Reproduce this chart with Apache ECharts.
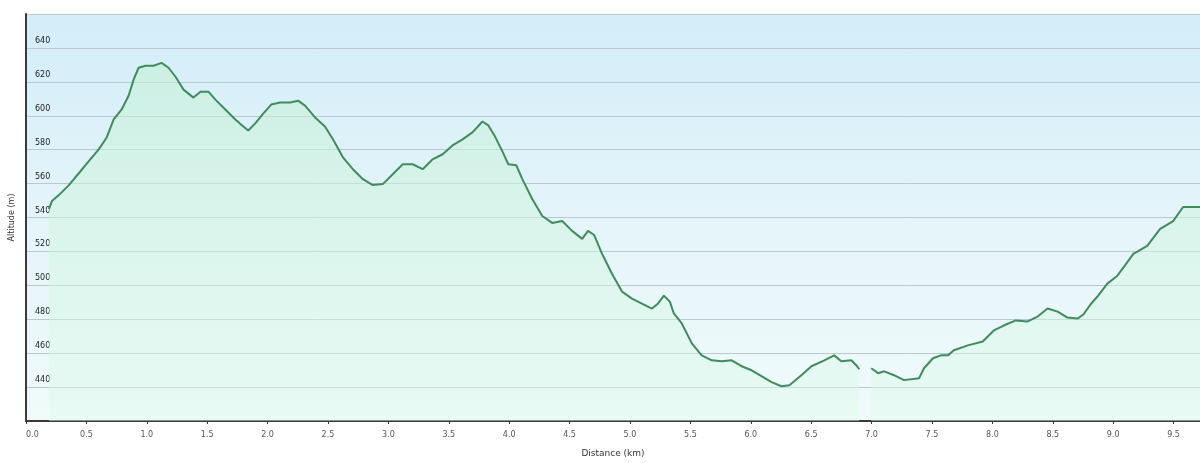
<!DOCTYPE html>
<html>
<head>
<meta charset="utf-8">
<script src="https://cdn.jsdelivr.net/npm/echarts@6/dist/echarts.min.js"></script>
<style>
html,body{margin:0;padding:0;background:#fff;}
#chart{width:1200px;height:463px;}
</style>
</head>
<body>
<div id="chart"></div>
<script>
// distance along the track (km)
const distanceKm = [0.190,0.215,0.272,0.355,0.437,0.520,0.602,0.668,0.726,0.792,0.850,0.891,0.932,0.990,1.056,1.122,1.180,1.238,1.304,1.386,1.444,1.510,1.568,1.650,1.733,1.799,1.840,1.898,1.964,2.030,2.104,2.186,2.252,2.310,2.393,2.475,2.541,2.624,2.706,2.789,2.871,2.954,3.036,3.119,3.201,3.284,3.366,3.449,3.531,3.614,3.696,3.779,3.828,3.878,3.944,3.993,4.059,4.109,4.191,4.274,4.356,4.439,4.521,4.604,4.653,4.703,4.769,4.851,4.934,5.017,5.099,5.182,5.231,5.281,5.330,5.363,5.429,5.512,5.594,5.677,5.759,5.842,5.924,6.007,6.089,6.172,6.254,6.320,6.419,6.502,6.609,6.691,6.749,6.832,6.873,6.898,6.950,6.997,7.054,7.104,7.186,7.269,7.393,7.434,7.508,7.574,7.632,7.681,7.797,7.921,8.012,8.094,8.193,8.292,8.375,8.457,8.540,8.622,8.705,8.754,8.812,8.870,8.952,9.035,9.101,9.167,9.282,9.389,9.497,9.579,9.719];
// elevation (m); null = gap in the recorded track
const elevationM = [545.0,549.7,553.2,559.1,566.1,573.2,580.2,587.2,597.8,603.7,611.9,621.3,628.3,629.5,629.5,631.2,628.3,623.0,615.4,610.7,614.2,614.2,609.5,603.7,597.8,593.7,591.3,595.5,601.3,606.6,607.8,607.8,608.9,606.0,599.0,593.7,586.1,575.5,568.5,562.6,559.1,559.7,565.5,571.4,571.4,568.5,574.3,577.3,582.5,586.1,590.2,596.6,594.3,588.4,579.0,571.4,570.8,562.6,550.9,540.9,536.8,537.9,532.1,527.4,532.1,529.7,518.6,506.8,496.3,492.2,489.2,486.3,489.2,493.9,490.4,483.4,477.5,465.8,458.7,455.8,455.2,455.8,452.3,449.9,446.4,442.9,440.5,441.1,447.0,452.3,455.8,458.7,455.2,455.8,452.9,450.5,null,451.1,448.2,449.3,447.0,444.1,445.2,451.1,457.0,458.7,458.7,461.7,464.6,466.9,473.4,476.3,479.3,478.7,481.6,486.3,484.5,481.0,480.4,482.8,488.7,493.4,501.0,505.7,512.1,518.6,523.3,533.3,537.9,546.2,546.2];
const xTitle = 'Distance (km)';
const yTitle = 'Altitude (m)';

const chart = echarts.init(document.getElementById('chart'), null, {renderer:'canvas'});
const pts = distanceKm.map((d,i)=>[d, elevationM[i]]);
chart.setOption({
  animation:false,
  backgroundColor:'#ffffff',
  grid:{
    left:22, right:0, top:14, bottom:40,
    show:true,
    borderWidth:0,
    backgroundColor:new echarts.graphic.LinearGradient(0,0,0,1,[
      {offset:0,color:'#d3edf9'},
      {offset:0.55,color:'#e6f5fa'},
      {offset:1,color:'#f0fbfa'}
    ])
  },
  xAxis:{
    type:'value', min:0, max:9.719, interval:0.5,
    name:xTitle, nameLocation:'middle', nameGap:28,
    nameTextStyle:{fontSize:9,color:'#333',fontFamily:'DejaVu Sans'},
    axisLine:{show:true,lineStyle:{color:'#3a3a3a',width:2}},
    axisTick:{show:true,length:3,lineStyle:{color:'#333'}},
    axisLabel:{fontSize:8,color:'#555',margin:10,fontFamily:'DejaVu Sans',
      formatter:v=>v.toFixed(1), alignMinLabel:'left', showMaxLabel:false},
    splitLine:{show:false}
  },
  yAxis:{
    type:'value', min:420, max:660, interval:20,
    name:yTitle, nameLocation:'middle', nameGap:10, nameRotate:90,
    nameTextStyle:{fontSize:8,color:'#333',fontFamily:'DejaVu Sans'},
    axisLine:{show:true,lineStyle:{color:'#3a3a3a',width:2}},
    axisTick:{show:false},
    axisLabel:{inside:true,margin:9,fontSize:8,color:'#222',fontFamily:'DejaVu Sans',
      verticalAlign:'bottom',padding:[0,0,3,0],showMinLabel:false,showMaxLabel:false},
    splitLine:{show:true,lineStyle:{color:'#b9c9cc',width:1}}
  },
  series:[{
    type:'line',
    data:pts,
    showSymbol:false,
    connectNulls:false,
    lineStyle:{color:'#3f8c5c',width:2},
    areaStyle:{color:new echarts.graphic.LinearGradient(0,0,0,1,[
      {offset:0,color:'rgba(195,240,212,0.8)'},
      {offset:1,color:'rgba(222,250,236,0.65)'}
    ])}
  }]
});
</script>
</body>
</html>
